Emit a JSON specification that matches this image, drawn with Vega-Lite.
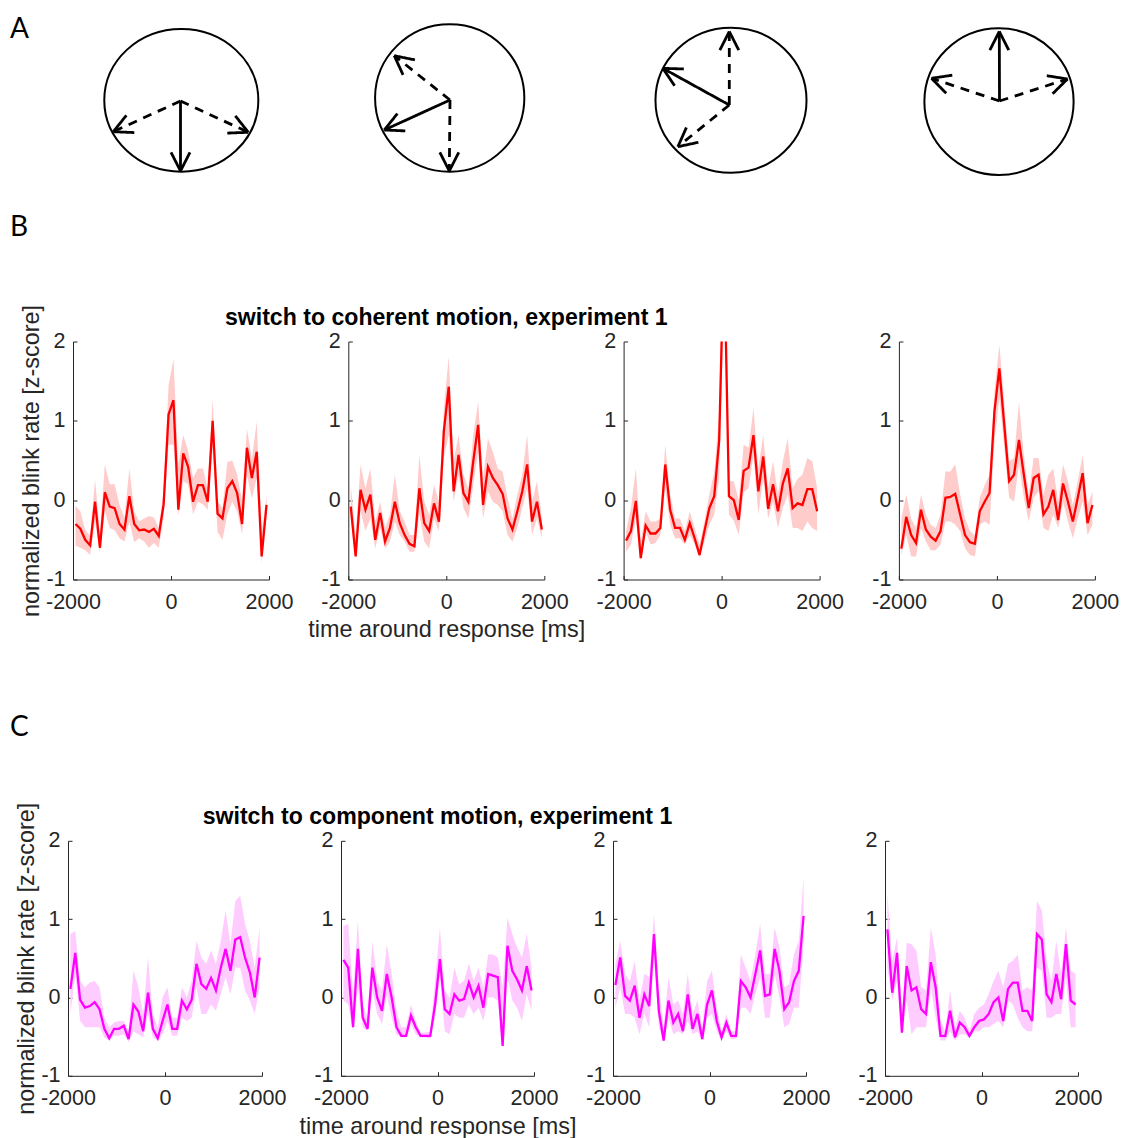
{
  "$schema": "https://vega.github.io/schema/vega-lite/v6.json",
  "background": "white",
  "padding": 0,
  "config": {
    "view": {"stroke": null},
    "font": "Liberation Sans",
    "axis": {
      "grid": false, "domainColor": "#262626", "domainWidth": 1,
      "tickColor": "#262626", "tickWidth": 1, "tickSize": -4,
      "labelColor": "#262626", "labelFont": "Liberation Sans", "labelFontSize": 21.5,
      "titleColor": "#262626", "titleFont": "Liberation Sans", "titleFontSize": 23.4, "titleFontWeight": "normal",
      "labelOverlap": false, "labelFlush": false, "labelBound": false
    },
    "axisX": {"labelPadding": 15.8, "titlePadding": 6},
    "axisY": {"labelPadding": 12, "titlePadding": 2}
  },
  "datasets": {
    "rings": [
      {"ring": "1", "x": 181.3, "y": 89.7},
      {"ring": "2", "x": 449.7, "y": 92.0},
      {"ring": "3", "x": 731.0, "y": 89.8},
      {"ring": "4", "x": 999.0, "y": 88.3}
    ],
    "arrows": [
      {"ring": "1", "line": "solid", "x": 180.5, "y": 89, "x2": 180.5, "y2": 19},
      {"ring": "1", "line": "solid", "x": 180.5, "y": 19, "x2": 190.0, "y2": 37.7},
      {"ring": "1", "line": "solid", "x": 180.5, "y": 19, "x2": 171.0, "y2": 37.7},
      {"ring": "1", "line": "dashed", "x": 180.5, "y": 89, "x2": 113.3, "y2": 58.3},
      {"ring": "1", "line": "solid", "x": 113.3, "y": 58.3, "x2": 134.3, "y2": 57.4},
      {"ring": "1", "line": "solid", "x": 113.3, "y": 58.3, "x2": 126.4, "y2": 74.7},
      {"ring": "1", "line": "dashed", "x": 180.5, "y": 89, "x2": 248.3, "y2": 57.7},
      {"ring": "1", "line": "solid", "x": 248.3, "y": 57.7, "x2": 235.3, "y2": 74.2},
      {"ring": "1", "line": "solid", "x": 248.3, "y": 57.7, "x2": 227.3, "y2": 56.9},
      {"ring": "2", "line": "solid", "x": 450, "y": 90, "x2": 384.3, "y2": 60},
      {"ring": "2", "line": "solid", "x": 384.3, "y": 60, "x2": 405.3, "y2": 59.1},
      {"ring": "2", "line": "solid", "x": 384.3, "y": 60, "x2": 397.4, "y2": 76.4},
      {"ring": "2", "line": "dashed", "x": 450, "y": 90, "x2": 394.3, "y2": 134.3},
      {"ring": "2", "line": "solid", "x": 394.3, "y": 134.3, "x2": 403.0, "y2": 115.2},
      {"ring": "2", "line": "solid", "x": 394.3, "y": 134.3, "x2": 414.9, "y2": 130.1},
      {"ring": "2", "line": "dashed", "x": 450, "y": 90, "x2": 449.3, "y2": 19},
      {"ring": "2", "line": "solid", "x": 449.3, "y": 19, "x2": 458.8, "y2": 37.7},
      {"ring": "2", "line": "solid", "x": 449.3, "y": 19, "x2": 439.8, "y2": 37.7},
      {"ring": "3", "line": "dashed", "x": 729.3, "y": 85, "x2": 729.3, "y2": 158.5},
      {"ring": "3", "line": "solid", "x": 729.3, "y": 158.5, "x2": 719.8, "y2": 139.8},
      {"ring": "3", "line": "solid", "x": 729.3, "y": 158.5, "x2": 738.8, "y2": 139.8},
      {"ring": "3", "line": "solid", "x": 729.3, "y": 85, "x2": 662.8, "y2": 121.7},
      {"ring": "3", "line": "solid", "x": 662.8, "y": 121.7, "x2": 674.6, "y2": 104.3},
      {"ring": "3", "line": "solid", "x": 662.8, "y": 121.7, "x2": 683.8, "y2": 121.0},
      {"ring": "3", "line": "dashed", "x": 729.3, "y": 85, "x2": 677.9, "y2": 43.3},
      {"ring": "3", "line": "solid", "x": 677.9, "y": 43.3, "x2": 698.4, "y2": 47.7},
      {"ring": "3", "line": "solid", "x": 677.9, "y": 43.3, "x2": 686.4, "y2": 62.5},
      {"ring": "4", "line": "solid", "x": 999.5, "y": 89, "x2": 999.3, "y2": 158.5},
      {"ring": "4", "line": "solid", "x": 999.3, "y": 158.5, "x2": 989.8, "y2": 139.8},
      {"ring": "4", "line": "solid", "x": 999.3, "y": 158.5, "x2": 1008.8, "y2": 139.8},
      {"ring": "4", "line": "dashed", "x": 999.5, "y": 89, "x2": 931.5, "y2": 111.7},
      {"ring": "4", "line": "solid", "x": 931.5, "y": 111.7, "x2": 946.2, "y2": 96.7},
      {"ring": "4", "line": "solid", "x": 931.5, "y": 111.7, "x2": 952.3, "y2": 114.8},
      {"ring": "4", "line": "dashed", "x": 999.5, "y": 89, "x2": 1067.5, "y2": 111},
      {"ring": "4", "line": "solid", "x": 1067.5, "y": 111, "x2": 1046.8, "y2": 114.3},
      {"ring": "4", "line": "solid", "x": 1067.5, "y": 111, "x2": 1052.6, "y2": 96.2}
    ],
    "blink": [
      {"p":"B1","t":-1950,"m":-0.30,"lo":-0.57,"hi":-0.07},
      {"p":"B1","t":-1850,"m":-0.36,"lo":-0.60,"hi":-0.14},
      {"p":"B1","t":-1750,"m":-0.50,"lo":-0.63,"hi":-0.38},
      {"p":"B1","t":-1650,"m":-0.57,"lo":-0.69,"hi":-0.45},
      {"p":"B1","t":-1550,"m":-0.02,"lo":-0.27,"hi":0.26},
      {"p":"B1","t":-1450,"m":-0.60,"lo":-0.66,"hi":-0.42},
      {"p":"B1","t":-1350,"m":0.10,"lo":-0.14,"hi":0.45},
      {"p":"B1","t":-1250,"m":-0.08,"lo":-0.35,"hi":0.20},
      {"p":"B1","t":-1150,"m":-0.10,"lo":-0.38,"hi":0.20},
      {"p":"B1","t":-1050,"m":-0.30,"lo":-0.48,"hi":-0.06},
      {"p":"B1","t":-950,"m":-0.37,"lo":-0.52,"hi":-0.22},
      {"p":"B1","t":-850,"m":0.05,"lo":-0.27,"hi":0.40},
      {"p":"B1","t":-750,"m":-0.30,"lo":-0.53,"hi":-0.14},
      {"p":"B1","t":-650,"m":-0.38,"lo":-0.48,"hi":-0.27},
      {"p":"B1","t":-550,"m":-0.37,"lo":-0.52,"hi":-0.23},
      {"p":"B1","t":-450,"m":-0.40,"lo":-0.60,"hi":-0.20},
      {"p":"B1","t":-350,"m":-0.36,"lo":-0.54,"hi":-0.22},
      {"p":"B1","t":-250,"m":-0.45,"lo":-0.60,"hi":-0.35},
      {"p":"B1","t":-150,"m":-0.05,"lo":-0.22,"hi":0.11},
      {"p":"B1","t":-50,"m":1.08,"lo":0.70,"hi":1.45},
      {"p":"B1","t":50,"m":1.26,"lo":0.70,"hi":1.78},
      {"p":"B1","t":150,"m":-0.12,"lo":-0.20,"hi":0.45},
      {"p":"B1","t":250,"m":0.59,"lo":0.24,"hi":0.82},
      {"p":"B1","t":350,"m":0.42,"lo":0.20,"hi":0.62},
      {"p":"B1","t":450,"m":-0.02,"lo":-0.18,"hi":0.28},
      {"p":"B1","t":550,"m":0.19,"lo":-0.02,"hi":0.40},
      {"p":"B1","t":650,"m":0.19,"lo":-0.05,"hi":0.40},
      {"p":"B1","t":750,"m":-0.02,"lo":-0.12,"hi":0.15},
      {"p":"B1","t":850,"m":1.00,"lo":0.65,"hi":1.28},
      {"p":"B1","t":950,"m":-0.17,"lo":-0.40,"hi":-0.02},
      {"p":"B1","t":1050,"m":-0.23,"lo":-0.50,"hi":-0.10},
      {"p":"B1","t":1150,"m":0.15,"lo":-0.18,"hi":0.48},
      {"p":"B1","t":1250,"m":0.24,"lo":-0.02,"hi":0.50},
      {"p":"B1","t":1350,"m":0.09,"lo":-0.14,"hi":0.32},
      {"p":"B1","t":1450,"m":-0.30,"lo":-0.43,"hi":0.00},
      {"p":"B1","t":1550,"m":0.66,"lo":0.32,"hi":0.90},
      {"p":"B1","t":1650,"m":0.28,"lo":0.02,"hi":0.52},
      {"p":"B1","t":1750,"m":0.61,"lo":0.28,"hi":0.99},
      {"p":"B1","t":1850,"m":-0.71,"lo":-0.79,"hi":-0.40},
      {"p":"B1","t":1950,"m":-0.06,"lo":-0.18,"hi":0.06},

      {"p":"B2","t":-1950,"m":-0.08,"lo":-0.23,"hi":0.19},
      {"p":"B2","t":-1850,"m":-0.71,"lo":-0.73,"hi":-0.44},
      {"p":"B2","t":-1750,"m":0.13,"lo":-0.14,"hi":0.45},
      {"p":"B2","t":-1650,"m":-0.12,"lo":-0.39,"hi":0.15},
      {"p":"B2","t":-1550,"m":0.07,"lo":-0.23,"hi":0.40},
      {"p":"B2","t":-1450,"m":-0.50,"lo":-0.61,"hi":-0.27},
      {"p":"B2","t":-1350,"m":-0.16,"lo":-0.35,"hi":-0.02},
      {"p":"B2","t":-1250,"m":-0.52,"lo":-0.61,"hi":-0.35},
      {"p":"B2","t":-1150,"m":-0.35,"lo":-0.52,"hi":-0.18},
      {"p":"B2","t":-1050,"m":-0.02,"lo":-0.27,"hi":0.32},
      {"p":"B2","t":-950,"m":-0.29,"lo":-0.44,"hi":-0.14},
      {"p":"B2","t":-850,"m":-0.44,"lo":-0.52,"hi":-0.27},
      {"p":"B2","t":-750,"m":-0.55,"lo":-0.65,"hi":-0.44},
      {"p":"B2","t":-650,"m":-0.58,"lo":-0.65,"hi":-0.44},
      {"p":"B2","t":-550,"m":0.15,"lo":-0.18,"hi":0.57},
      {"p":"B2","t":-450,"m":-0.29,"lo":-0.52,"hi":-0.02},
      {"p":"B2","t":-350,"m":-0.39,"lo":-0.61,"hi":-0.18},
      {"p":"B2","t":-250,"m":-0.04,"lo":-0.23,"hi":0.19},
      {"p":"B2","t":-150,"m":-0.27,"lo":-0.39,"hi":-0.02},
      {"p":"B2","t":-50,"m":0.87,"lo":0.53,"hi":1.16},
      {"p":"B2","t":50,"m":1.43,"lo":0.82,"hi":1.81},
      {"p":"B2","t":150,"m":0.11,"lo":-0.02,"hi":0.49},
      {"p":"B2","t":250,"m":0.57,"lo":0.32,"hi":0.82},
      {"p":"B2","t":350,"m":0.09,"lo":-0.10,"hi":0.32},
      {"p":"B2","t":450,"m":-0.02,"lo":-0.23,"hi":0.15},
      {"p":"B2","t":550,"m":0.49,"lo":0.19,"hi":0.82},
      {"p":"B2","t":650,"m":0.95,"lo":0.61,"hi":1.24},
      {"p":"B2","t":750,"m":-0.06,"lo":-0.23,"hi":0.28},
      {"p":"B2","t":850,"m":0.42,"lo":0.11,"hi":0.78},
      {"p":"B2","t":950,"m":0.28,"lo":-0.02,"hi":0.61},
      {"p":"B2","t":1050,"m":0.19,"lo":-0.06,"hi":0.40},
      {"p":"B2","t":1150,"m":0.08,"lo":-0.14,"hi":0.36},
      {"p":"B2","t":1250,"m":-0.23,"lo":-0.44,"hi":0.03},
      {"p":"B2","t":1350,"m":-0.37,"lo":-0.52,"hi":-0.23},
      {"p":"B2","t":1450,"m":-0.14,"lo":-0.35,"hi":0.07},
      {"p":"B2","t":1550,"m":0.11,"lo":-0.10,"hi":0.32},
      {"p":"B2","t":1650,"m":0.45,"lo":0.15,"hi":0.82},
      {"p":"B2","t":1750,"m":-0.27,"lo":-0.44,"hi":-0.02},
      {"p":"B2","t":1850,"m":-0.02,"lo":-0.23,"hi":0.24},
      {"p":"B2","t":1950,"m":-0.37,"lo":-0.48,"hi":-0.23},

      {"p":"B3","t":-1950,"m":-0.51,"lo":-0.65,"hi":-0.39},
      {"p":"B3","t":-1850,"m":-0.39,"lo":-0.56,"hi":-0.10},
      {"p":"B3","t":-1750,"m":-0.01,"lo":-0.23,"hi":0.40},
      {"p":"B3","t":-1650,"m":-0.73,"lo":-0.77,"hi":-0.52},
      {"p":"B3","t":-1550,"m":-0.32,"lo":-0.39,"hi":-0.14},
      {"p":"B3","t":-1450,"m":-0.42,"lo":-0.56,"hi":-0.27},
      {"p":"B3","t":-1350,"m":-0.42,"lo":-0.54,"hi":-0.27},
      {"p":"B3","t":-1250,"m":-0.35,"lo":-0.44,"hi":-0.23},
      {"p":"B3","t":-1150,"m":0.45,"lo":0.15,"hi":0.70},
      {"p":"B3","t":-1050,"m":-0.12,"lo":-0.31,"hi":0.07},
      {"p":"B3","t":-950,"m":-0.35,"lo":-0.48,"hi":-0.23},
      {"p":"B3","t":-850,"m":-0.35,"lo":-0.48,"hi":-0.23},
      {"p":"B3","t":-750,"m":-0.50,"lo":-0.56,"hi":-0.39},
      {"p":"B3","t":-650,"m":-0.29,"lo":-0.44,"hi":-0.14},
      {"p":"B3","t":-550,"m":-0.48,"lo":-0.56,"hi":-0.35},
      {"p":"B3","t":-450,"m":-0.69,"lo":-0.73,"hi":-0.56},
      {"p":"B3","t":-350,"m":-0.39,"lo":-0.52,"hi":-0.27},
      {"p":"B3","t":-250,"m":-0.10,"lo":-0.31,"hi":0.07},
      {"p":"B3","t":-150,"m":0.05,"lo":-0.18,"hi":0.36},
      {"p":"B3","t":-50,"m":0.75,"lo":0.28,"hi":1.08},
      {"p":"B3","t":50,"m":3.20,"lo":2.60,"hi":3.80},
      {"p":"B3","t":150,"m":0.05,"lo":-0.18,"hi":0.24},
      {"p":"B3","t":250,"m":0.00,"lo":-0.26,"hi":0.24},
      {"p":"B3","t":350,"m":-0.25,"lo":-0.44,"hi":0.00},
      {"p":"B3","t":450,"m":0.37,"lo":0.10,"hi":0.70},
      {"p":"B3","t":550,"m":0.41,"lo":0.15,"hi":0.66},
      {"p":"B3","t":650,"m":0.82,"lo":0.57,"hi":1.16},
      {"p":"B3","t":750,"m":0.11,"lo":-0.18,"hi":0.40},
      {"p":"B3","t":850,"m":0.55,"lo":0.28,"hi":0.82},
      {"p":"B3","t":950,"m":-0.11,"lo":-0.23,"hi":0.15},
      {"p":"B3","t":1050,"m":0.20,"lo":-0.02,"hi":0.49},
      {"p":"B3","t":1150,"m":-0.14,"lo":-0.35,"hi":0.07},
      {"p":"B3","t":1250,"m":0.21,"lo":-0.10,"hi":0.49},
      {"p":"B3","t":1350,"m":0.40,"lo":0.07,"hi":0.78},
      {"p":"B3","t":1450,"m":-0.10,"lo":-0.35,"hi":0.15},
      {"p":"B3","t":1550,"m":-0.04,"lo":-0.35,"hi":0.27},
      {"p":"B3","t":1650,"m":-0.06,"lo":-0.39,"hi":0.32},
      {"p":"B3","t":1750,"m":0.14,"lo":-0.27,"hi":0.53},
      {"p":"B3","t":1850,"m":0.14,"lo":-0.35,"hi":0.49},
      {"p":"B3","t":1950,"m":-0.14,"lo":-0.39,"hi":0.15},

      {"p":"B4","t":-1950,"m":-0.61,"lo":-0.69,"hi":-0.23},
      {"p":"B4","t":-1850,"m":-0.21,"lo":-0.44,"hi":0.07},
      {"p":"B4","t":-1750,"m":-0.44,"lo":-0.71,"hi":-0.23},
      {"p":"B4","t":-1650,"m":-0.54,"lo":-0.71,"hi":-0.35},
      {"p":"B4","t":-1550,"m":-0.12,"lo":-0.35,"hi":0.07},
      {"p":"B4","t":-1450,"m":-0.37,"lo":-0.52,"hi":-0.18},
      {"p":"B4","t":-1350,"m":-0.46,"lo":-0.63,"hi":-0.31},
      {"p":"B4","t":-1250,"m":-0.51,"lo":-0.63,"hi":-0.35},
      {"p":"B4","t":-1150,"m":-0.39,"lo":-0.56,"hi":-0.18},
      {"p":"B4","t":-1050,"m":0.03,"lo":-0.27,"hi":0.36},
      {"p":"B4","t":-950,"m":0.04,"lo":-0.27,"hi":0.36},
      {"p":"B4","t":-850,"m":0.08,"lo":-0.31,"hi":0.45},
      {"p":"B4","t":-750,"m":-0.18,"lo":-0.39,"hi":0.07},
      {"p":"B4","t":-650,"m":-0.44,"lo":-0.61,"hi":-0.23},
      {"p":"B4","t":-550,"m":-0.53,"lo":-0.69,"hi":-0.39},
      {"p":"B4","t":-450,"m":-0.55,"lo":-0.71,"hi":-0.44},
      {"p":"B4","t":-350,"m":-0.14,"lo":-0.31,"hi":0.03},
      {"p":"B4","t":-250,"m":-0.02,"lo":-0.27,"hi":0.19},
      {"p":"B4","t":-150,"m":0.09,"lo":-0.31,"hi":0.32},
      {"p":"B4","t":-50,"m":1.12,"lo":0.74,"hi":1.37},
      {"p":"B4","t":50,"m":1.66,"lo":1.29,"hi":1.96},
      {"p":"B4","t":150,"m":0.95,"lo":0.66,"hi":1.24},
      {"p":"B4","t":250,"m":0.24,"lo":0.03,"hi":0.49},
      {"p":"B4","t":350,"m":0.32,"lo":-0.02,"hi":0.53},
      {"p":"B4","t":450,"m":0.76,"lo":0.45,"hi":1.24},
      {"p":"B4","t":550,"m":0.32,"lo":0.03,"hi":0.57},
      {"p":"B4","t":650,"m":-0.10,"lo":-0.27,"hi":0.07},
      {"p":"B4","t":750,"m":0.28,"lo":0.03,"hi":0.53},
      {"p":"B4","t":850,"m":0.32,"lo":0.11,"hi":0.53},
      {"p":"B4","t":950,"m":-0.18,"lo":-0.35,"hi":0.07},
      {"p":"B4","t":1050,"m":-0.08,"lo":-0.39,"hi":0.32},
      {"p":"B4","t":1150,"m":0.13,"lo":-0.18,"hi":0.40},
      {"p":"B4","t":1250,"m":-0.25,"lo":-0.35,"hi":-0.02},
      {"p":"B4","t":1350,"m":0.21,"lo":-0.02,"hi":0.45},
      {"p":"B4","t":1450,"m":-0.02,"lo":-0.27,"hi":0.24},
      {"p":"B4","t":1550,"m":-0.27,"lo":-0.48,"hi":-0.06},
      {"p":"B4","t":1650,"m":0.03,"lo":-0.23,"hi":0.24},
      {"p":"B4","t":1750,"m":0.34,"lo":-0.02,"hi":0.57},
      {"p":"B4","t":1850,"m":-0.29,"lo":-0.44,"hi":-0.06},
      {"p":"B4","t":1950,"m":-0.06,"lo":-0.31,"hi":0.11},

      {"p":"C1","t":-1950,"m":0.11,"lo":-0.21,"hi":0.81},
      {"p":"C1","t":-1850,"m":0.57,"lo":0.30,"hi":0.85},
      {"p":"C1","t":-1750,"m":-0.03,"lo":-0.30,"hi":0.21},
      {"p":"C1","t":-1650,"m":-0.13,"lo":-0.38,"hi":0.13},
      {"p":"C1","t":-1550,"m":-0.11,"lo":-0.38,"hi":0.19},
      {"p":"C1","t":-1450,"m":-0.06,"lo":-0.38,"hi":0.21},
      {"p":"C1","t":-1350,"m":-0.15,"lo":-0.38,"hi":0.13},
      {"p":"C1","t":-1250,"m":-0.40,"lo":-0.51,"hi":-0.26},
      {"p":"C1","t":-1150,"m":-0.52,"lo":-0.55,"hi":-0.38},
      {"p":"C1","t":-1050,"m":-0.40,"lo":-0.49,"hi":-0.32},
      {"p":"C1","t":-950,"m":-0.40,"lo":-0.49,"hi":-0.30},
      {"p":"C1","t":-850,"m":-0.36,"lo":-0.47,"hi":-0.30},
      {"p":"C1","t":-750,"m":-0.53,"lo":-0.57,"hi":-0.43},
      {"p":"C1","t":-650,"m":-0.09,"lo":-0.43,"hi":0.34},
      {"p":"C1","t":-550,"m":-0.18,"lo":-0.47,"hi":0.13},
      {"p":"C1","t":-450,"m":-0.43,"lo":-0.51,"hi":-0.21},
      {"p":"C1","t":-350,"m":0.06,"lo":-0.21,"hi":0.51},
      {"p":"C1","t":-250,"m":-0.40,"lo":-0.51,"hi":-0.21},
      {"p":"C1","t":-150,"m":-0.52,"lo":-0.55,"hi":-0.38},
      {"p":"C1","t":-50,"m":-0.30,"lo":-0.47,"hi":0.00},
      {"p":"C1","t":50,"m":-0.09,"lo":-0.30,"hi":0.13},
      {"p":"C1","t":150,"m":-0.40,"lo":-0.49,"hi":-0.26},
      {"p":"C1","t":250,"m":-0.40,"lo":-0.49,"hi":-0.26},
      {"p":"C1","t":350,"m":-0.04,"lo":-0.26,"hi":0.13},
      {"p":"C1","t":450,"m":-0.15,"lo":-0.30,"hi":0.00},
      {"p":"C1","t":550,"m":-0.03,"lo":-0.26,"hi":0.21},
      {"p":"C1","t":650,"m":0.43,"lo":0.13,"hi":0.72},
      {"p":"C1","t":750,"m":0.17,"lo":-0.21,"hi":0.51},
      {"p":"C1","t":850,"m":0.11,"lo":-0.21,"hi":0.43},
      {"p":"C1","t":950,"m":0.25,"lo":-0.09,"hi":0.60},
      {"p":"C1","t":1050,"m":0.09,"lo":-0.17,"hi":0.43},
      {"p":"C1","t":1150,"m":0.38,"lo":0.04,"hi":0.72},
      {"p":"C1","t":1250,"m":0.62,"lo":0.26,"hi":1.11},
      {"p":"C1","t":1350,"m":0.34,"lo":0.04,"hi":0.68},
      {"p":"C1","t":1450,"m":0.74,"lo":0.38,"hi":1.23},
      {"p":"C1","t":1550,"m":0.77,"lo":0.38,"hi":1.30},
      {"p":"C1","t":1650,"m":0.51,"lo":0.09,"hi":0.94},
      {"p":"C1","t":1750,"m":0.32,"lo":-0.04,"hi":0.72},
      {"p":"C1","t":1850,"m":0.00,"lo":-0.21,"hi":0.38},
      {"p":"C1","t":1950,"m":0.51,"lo":0.13,"hi":0.89},

      {"p":"C2","t":-1950,"m":0.48,"lo":-0.04,"hi":0.91},
      {"p":"C2","t":-1850,"m":0.38,"lo":-0.09,"hi":0.94},
      {"p":"C2","t":-1750,"m":-0.38,"lo":-0.43,"hi":0.04},
      {"p":"C2","t":-1650,"m":0.62,"lo":0.13,"hi":0.98},
      {"p":"C2","t":-1550,"m":-0.26,"lo":-0.38,"hi":-0.09},
      {"p":"C2","t":-1450,"m":-0.40,"lo":-0.43,"hi":-0.26},
      {"p":"C2","t":-1350,"m":0.38,"lo":0.09,"hi":0.72},
      {"p":"C2","t":-1250,"m":0.00,"lo":-0.21,"hi":0.21},
      {"p":"C2","t":-1150,"m":-0.17,"lo":-0.34,"hi":0.09},
      {"p":"C2","t":-1050,"m":0.30,"lo":0.04,"hi":0.68},
      {"p":"C2","t":-950,"m":0.00,"lo":-0.26,"hi":0.30},
      {"p":"C2","t":-850,"m":-0.38,"lo":-0.47,"hi":-0.17},
      {"p":"C2","t":-750,"m":-0.49,"lo":-0.51,"hi":-0.38},
      {"p":"C2","t":-650,"m":-0.49,"lo":-0.51,"hi":-0.38},
      {"p":"C2","t":-550,"m":-0.23,"lo":-0.34,"hi":-0.09},
      {"p":"C2","t":-450,"m":-0.38,"lo":-0.47,"hi":-0.30},
      {"p":"C2","t":-350,"m":-0.49,"lo":-0.51,"hi":-0.45},
      {"p":"C2","t":-250,"m":-0.49,"lo":-0.51,"hi":-0.45},
      {"p":"C2","t":-150,"m":-0.49,"lo":-0.53,"hi":-0.43},
      {"p":"C2","t":-50,"m":-0.09,"lo":-0.26,"hi":0.21},
      {"p":"C2","t":50,"m":0.49,"lo":0.26,"hi":0.89},
      {"p":"C2","t":150,"m":-0.15,"lo":-0.43,"hi":0.09},
      {"p":"C2","t":250,"m":-0.21,"lo":-0.47,"hi":0.00},
      {"p":"C2","t":350,"m":0.04,"lo":-0.21,"hi":0.38},
      {"p":"C2","t":450,"m":-0.04,"lo":-0.26,"hi":0.17},
      {"p":"C2","t":550,"m":-0.02,"lo":-0.26,"hi":0.21},
      {"p":"C2","t":650,"m":0.19,"lo":-0.09,"hi":0.43},
      {"p":"C2","t":750,"m":0.00,"lo":-0.21,"hi":0.21},
      {"p":"C2","t":850,"m":0.15,"lo":-0.13,"hi":0.38},
      {"p":"C2","t":950,"m":-0.13,"lo":-0.30,"hi":0.13},
      {"p":"C2","t":1050,"m":0.30,"lo":0.00,"hi":0.55},
      {"p":"C2","t":1150,"m":0.28,"lo":0.00,"hi":0.55},
      {"p":"C2","t":1250,"m":0.26,"lo":-0.04,"hi":0.51},
      {"p":"C2","t":1350,"m":-0.62,"lo":-0.64,"hi":0.13},
      {"p":"C2","t":1450,"m":0.66,"lo":0.26,"hi":1.02},
      {"p":"C2","t":1550,"m":0.34,"lo":-0.04,"hi":0.81},
      {"p":"C2","t":1650,"m":0.23,"lo":-0.13,"hi":0.64},
      {"p":"C2","t":1750,"m":0.09,"lo":-0.30,"hi":0.51},
      {"p":"C2","t":1850,"m":0.40,"lo":0.04,"hi":0.81},
      {"p":"C2","t":1950,"m":0.09,"lo":-0.17,"hi":0.38},

      {"p":"C3","t":-1950,"m":0.16,"lo":-0.13,"hi":0.43},
      {"p":"C3","t":-1850,"m":0.51,"lo":0.13,"hi":0.72},
      {"p":"C3","t":-1750,"m":0.02,"lo":-0.21,"hi":0.30},
      {"p":"C3","t":-1650,"m":-0.04,"lo":-0.21,"hi":0.21},
      {"p":"C3","t":-1550,"m":0.15,"lo":-0.26,"hi":0.47},
      {"p":"C3","t":-1450,"m":-0.26,"lo":-0.47,"hi":-0.04},
      {"p":"C3","t":-1350,"m":0.04,"lo":-0.21,"hi":0.30},
      {"p":"C3","t":-1250,"m":-0.11,"lo":-0.38,"hi":0.26},
      {"p":"C3","t":-1150,"m":0.81,"lo":0.51,"hi":1.06},
      {"p":"C3","t":-1050,"m":-0.17,"lo":-0.38,"hi":0.13},
      {"p":"C3","t":-950,"m":-0.55,"lo":-0.57,"hi":-0.38},
      {"p":"C3","t":-850,"m":-0.04,"lo":-0.26,"hi":0.26},
      {"p":"C3","t":-750,"m":-0.32,"lo":-0.47,"hi":-0.09},
      {"p":"C3","t":-650,"m":-0.21,"lo":-0.43,"hi":-0.04},
      {"p":"C3","t":-550,"m":-0.43,"lo":-0.47,"hi":-0.21},
      {"p":"C3","t":-450,"m":0.04,"lo":-0.30,"hi":0.30},
      {"p":"C3","t":-350,"m":-0.40,"lo":-0.47,"hi":-0.21},
      {"p":"C3","t":-250,"m":-0.21,"lo":-0.43,"hi":-0.04},
      {"p":"C3","t":-150,"m":-0.53,"lo":-0.55,"hi":-0.38},
      {"p":"C3","t":-50,"m":-0.09,"lo":-0.26,"hi":0.21},
      {"p":"C3","t":50,"m":0.09,"lo":-0.21,"hi":0.34},
      {"p":"C3","t":150,"m":-0.30,"lo":-0.43,"hi":-0.13},
      {"p":"C3","t":250,"m":-0.51,"lo":-0.55,"hi":-0.43},
      {"p":"C3","t":350,"m":-0.32,"lo":-0.43,"hi":-0.21},
      {"p":"C3","t":450,"m":-0.49,"lo":-0.53,"hi":-0.43},
      {"p":"C3","t":550,"m":-0.49,"lo":-0.53,"hi":-0.43},
      {"p":"C3","t":650,"m":0.21,"lo":-0.13,"hi":0.55},
      {"p":"C3","t":750,"m":0.13,"lo":-0.13,"hi":0.38},
      {"p":"C3","t":850,"m":0.00,"lo":-0.21,"hi":0.21},
      {"p":"C3","t":950,"m":0.30,"lo":0.04,"hi":0.55},
      {"p":"C3","t":1050,"m":0.60,"lo":0.26,"hi":0.94},
      {"p":"C3","t":1150,"m":0.02,"lo":-0.26,"hi":0.30},
      {"p":"C3","t":1250,"m":0.04,"lo":-0.26,"hi":0.30},
      {"p":"C3","t":1350,"m":0.62,"lo":0.30,"hi":0.89},
      {"p":"C3","t":1450,"m":0.34,"lo":0.00,"hi":0.64},
      {"p":"C3","t":1550,"m":-0.15,"lo":-0.38,"hi":0.13},
      {"p":"C3","t":1650,"m":-0.06,"lo":-0.34,"hi":0.17},
      {"p":"C3","t":1750,"m":0.21,"lo":-0.13,"hi":0.55},
      {"p":"C3","t":1850,"m":0.34,"lo":-0.13,"hi":0.72},
      {"p":"C3","t":1950,"m":1.04,"lo":0.68,"hi":1.53},

      {"p":"C4","t":-1950,"m":0.87,"lo":0.38,"hi":1.32},
      {"p":"C4","t":-1850,"m":0.06,"lo":-0.04,"hi":0.47},
      {"p":"C4","t":-1750,"m":0.57,"lo":0.21,"hi":0.77},
      {"p":"C4","t":-1650,"m":-0.45,"lo":-0.47,"hi":-0.21},
      {"p":"C4","t":-1550,"m":0.40,"lo":-0.04,"hi":0.70},
      {"p":"C4","t":-1450,"m":0.09,"lo":-0.47,"hi":0.68},
      {"p":"C4","t":-1350,"m":0.13,"lo":-0.38,"hi":0.60},
      {"p":"C4","t":-1250,"m":-0.15,"lo":-0.38,"hi":0.13},
      {"p":"C4","t":-1150,"m":-0.21,"lo":-0.38,"hi":0.09},
      {"p":"C4","t":-1050,"m":0.45,"lo":0.13,"hi":0.89},
      {"p":"C4","t":-950,"m":0.13,"lo":-0.26,"hi":0.55},
      {"p":"C4","t":-850,"m":-0.49,"lo":-0.55,"hi":-0.30},
      {"p":"C4","t":-750,"m":-0.49,"lo":-0.55,"hi":-0.43},
      {"p":"C4","t":-650,"m":-0.17,"lo":-0.43,"hi":0.09},
      {"p":"C4","t":-550,"m":-0.51,"lo":-0.55,"hi":-0.38},
      {"p":"C4","t":-450,"m":-0.32,"lo":-0.47,"hi":-0.17},
      {"p":"C4","t":-350,"m":-0.38,"lo":-0.47,"hi":-0.26},
      {"p":"C4","t":-250,"m":-0.49,"lo":-0.51,"hi":-0.43},
      {"p":"C4","t":-150,"m":-0.38,"lo":-0.43,"hi":-0.21},
      {"p":"C4","t":-50,"m":-0.30,"lo":-0.43,"hi":-0.13},
      {"p":"C4","t":50,"m":-0.28,"lo":-0.38,"hi":-0.09},
      {"p":"C4","t":150,"m":-0.21,"lo":-0.38,"hi":0.04},
      {"p":"C4","t":250,"m":-0.06,"lo":-0.34,"hi":0.21},
      {"p":"C4","t":350,"m":0.00,"lo":-0.30,"hi":0.34},
      {"p":"C4","t":450,"m":-0.30,"lo":-0.38,"hi":0.13},
      {"p":"C4","t":550,"m":0.11,"lo":-0.04,"hi":0.43},
      {"p":"C4","t":650,"m":0.19,"lo":-0.09,"hi":0.47},
      {"p":"C4","t":750,"m":0.19,"lo":-0.26,"hi":0.55},
      {"p":"C4","t":850,"m":-0.17,"lo":-0.38,"hi":0.09},
      {"p":"C4","t":950,"m":-0.17,"lo":-0.43,"hi":0.13},
      {"p":"C4","t":1050,"m":-0.30,"lo":-0.43,"hi":0.09},
      {"p":"C4","t":1150,"m":0.81,"lo":0.38,"hi":1.23},
      {"p":"C4","t":1250,"m":0.74,"lo":0.34,"hi":1.11},
      {"p":"C4","t":1350,"m":0.04,"lo":-0.26,"hi":0.47},
      {"p":"C4","t":1450,"m":-0.06,"lo":-0.26,"hi":0.21},
      {"p":"C4","t":1550,"m":0.30,"lo":-0.21,"hi":0.72},
      {"p":"C4","t":1650,"m":-0.02,"lo":-0.21,"hi":0.30},
      {"p":"C4","t":1750,"m":0.68,"lo":0.26,"hi":0.89},
      {"p":"C4","t":1850,"m":-0.04,"lo":-0.38,"hi":0.34},
      {"p":"C4","t":1950,"m":-0.09,"lo":-0.38,"hi":0.30}
    ]
  },
  "bounds": "full",
  "spacing": 23.5,
  "vconcat": [
    {
      "width": 1100, "height": 190,
      "title": {"text": "A", "anchor": "start", "frame": "group", "dx": 10, "offset": -66.3, "baseline": "alphabetic", "font": "Lato", "fontSize": 28, "fontWeight": "normal", "color": "black"},
      "layer": [
        {
          "data": {"name": "rings"},
          "mark": {"type": "point", "filled": false, "color": "black", "strokeWidth": 2, "size": 22500, "opacity": 1},
          "encoding": {
            "x": {"field": "x", "type": "quantitative", "scale": {"domain": [0, 1100], "nice": false, "zero": false}, "axis": null},
            "y": {"field": "y", "type": "quantitative", "scale": {"domain": [0, 190], "nice": false, "zero": false}, "axis": null},
            "shape": {"field": "ring", "type": "nominal", "legend": null, "scale": {"domain": ["1", "2", "3", "4"], "range": [
              "M-1.027,0A1.027,0.951,0,1,1,1.027,0A1.027,0.951,0,1,1,-1.027,0Z",
              "M-0.995,0A0.995,0.983,0,1,1,0.995,0A0.995,0.983,0,1,1,-0.995,0Z",
              "M-1.007,0A1.007,0.967,0,1,1,1.007,0A1.007,0.967,0,1,1,-1.007,0Z",
              "M-0.995,0A0.995,0.978,0,1,1,0.995,0A0.995,0.978,0,1,1,-0.995,0Z"
            ]}}
          }
        },
        {
          "data": {"name": "arrows"},
          "mark": {"type": "rule", "color": "black", "strokeWidth": 2.8, "strokeCap": "butt"},
          "encoding": {
            "x": {"field": "x", "type": "quantitative"},
            "y": {"field": "y", "type": "quantitative"},
            "x2": {"field": "x2"},
            "y2": {"field": "y2"},
            "strokeDash": {"field": "line", "type": "nominal", "legend": null, "scale": {"domain": ["solid", "dashed"], "range": [[1, 0], [9, 7]]}}
          }
        }
      ]
    },
    {
      "bounds": "full",
      "spacing": 72.3,
      "vconcat": [
        {
          "bounds": "flush",
          "spacing": 72,
          "hconcat": [
            {"width": 1, "height": 1, "data": {"values": []}, "mark": "point"},
            {
              "bounds": "flush",
              "spacing": 79.3,
              "hconcat": [
                {
                  "width": 196, "height": 238,
                  "title": {"text": "B", "anchor": "start", "frame": "group", "dx": -63, "offset": 40.3, "baseline": "alphabetic", "font": "Lato", "fontSize": 28, "fontWeight": "normal", "color": "black"},
                  "data": {"name": "blink"},
                  "transform": [{"filter": "datum.p == 'B1'"}],
                  "encoding": {"x": {"field": "t", "type": "quantitative", "scale": {"domain": [-2000, 2000], "nice": false}, "axis": {"values": [-2000, 0, 2000], "labelExpr": "datum.value + ''", "title": null}}},
                  "layer": [
                    {"mark": {"type": "area", "color": "#ffcccc", "opacity": 1, "clip": true},
                     "encoding": {"y": {"field": "lo", "type": "quantitative", "scale": {"domain": [-1, 2], "nice": false}, "axis": {"values": [-1, 0, 1, 2], "labelExpr": "datum.value + ''", "title": "normalized blink rate [z-score]"}}, "y2": {"field": "hi"}}},
                    {"mark": {"type": "line", "color": "#ff0000", "strokeWidth": 2.3, "clip": true},
                     "encoding": {"y": {"field": "m", "type": "quantitative", "axis": {"values": [-1, 0, 1, 2], "labelExpr": "datum.value + ''", "title": "normalized blink rate [z-score]"}}}},
                    {"data": {"values": [{}]}, "mark": {"type": "rule", "color": "black", "strokeWidth": 1}, "encoding": {"x": {"datum": 0}}}
                  ]
                },
                {
                  "width": 196, "height": 238,
                  "title": {"text": "switch to coherent motion, experiment 1", "anchor": "middle", "frame": "group", "offset": -17.5, "baseline": "alphabetic", "font": "Liberation Sans", "fontSize": 23.1, "fontWeight": "bold", "color": "black"},
                  "data": {"name": "blink"},
                  "transform": [{"filter": "datum.p == 'B2'"}],
                  "encoding": {"x": {"field": "t", "type": "quantitative", "scale": {"domain": [-2000, 2000], "nice": false}, "axis": {"values": [-2000, 0, 2000], "labelExpr": "datum.value + ''", "title": "time around response [ms]"}}},
                  "layer": [
                    {"mark": {"type": "area", "color": "#ffcccc", "opacity": 1, "clip": true},
                     "encoding": {"y": {"field": "lo", "type": "quantitative", "scale": {"domain": [-1, 2], "nice": false}, "axis": {"values": [-1, 0, 1, 2], "labelExpr": "datum.value + ''", "title": null}}, "y2": {"field": "hi"}}},
                    {"mark": {"type": "line", "color": "#ff0000", "strokeWidth": 2.3, "clip": true},
                     "encoding": {"y": {"field": "m", "type": "quantitative", "axis": {"values": [-1, 0, 1, 2], "labelExpr": "datum.value + ''", "title": null}}}},
                    {"data": {"values": [{}]}, "mark": {"type": "rule", "color": "black", "strokeWidth": 1}, "encoding": {"x": {"datum": 0}}}
                  ]
                },
                {
                  "width": 196, "height": 238,
                  "data": {"name": "blink"},
                  "transform": [{"filter": "datum.p == 'B3'"}],
                  "encoding": {"x": {"field": "t", "type": "quantitative", "scale": {"domain": [-2000, 2000], "nice": false}, "axis": {"values": [-2000, 0, 2000], "labelExpr": "datum.value + ''", "title": null}}},
                  "layer": [
                    {"mark": {"type": "area", "color": "#ffcccc", "opacity": 1, "clip": true},
                     "encoding": {"y": {"field": "lo", "type": "quantitative", "scale": {"domain": [-1, 2], "nice": false}, "axis": {"values": [-1, 0, 1, 2], "labelExpr": "datum.value + ''", "title": null}}, "y2": {"field": "hi"}}},
                    {"mark": {"type": "line", "color": "#ff0000", "strokeWidth": 2.3, "clip": true},
                     "encoding": {"y": {"field": "m", "type": "quantitative", "axis": {"values": [-1, 0, 1, 2], "labelExpr": "datum.value + ''", "title": null}}}},
                    {"data": {"values": [{}]}, "mark": {"type": "rule", "color": "black", "strokeWidth": 1}, "encoding": {"x": {"datum": 0}}}
                  ]
                },
                {
                  "width": 196, "height": 238,
                  "data": {"name": "blink"},
                  "transform": [{"filter": "datum.p == 'B4'"}],
                  "encoding": {"x": {"field": "t", "type": "quantitative", "scale": {"domain": [-2000, 2000], "nice": false}, "axis": {"values": [-2000, 0, 2000], "labelExpr": "datum.value + ''", "title": null}}},
                  "layer": [
                    {"mark": {"type": "area", "color": "#ffcccc", "opacity": 1, "clip": true},
                     "encoding": {"y": {"field": "lo", "type": "quantitative", "scale": {"domain": [-1, 2], "nice": false}, "axis": {"values": [-1, 0, 1, 2], "labelExpr": "datum.value + ''", "title": null}}, "y2": {"field": "hi"}}},
                    {"mark": {"type": "line", "color": "#ff0000", "strokeWidth": 2.3, "clip": true},
                     "encoding": {"y": {"field": "m", "type": "quantitative", "axis": {"values": [-1, 0, 1, 2], "labelExpr": "datum.value + ''", "title": null}}}},
                    {"data": {"values": [{}]}, "mark": {"type": "rule", "color": "black", "strokeWidth": 1}, "encoding": {"x": {"datum": 0}}}
                  ]
                }
              ]
            }
          ]
        },
        {
          "bounds": "flush",
          "spacing": 67,
          "hconcat": [
            {"width": 1, "height": 1, "data": {"values": []}, "mark": "point"},
            {
              "bounds": "flush",
              "spacing": 79,
              "hconcat": [
                {
                  "width": 194, "height": 235,
                  "title": {"text": "C", "anchor": "start", "frame": "group", "dx": -58, "offset": 38.3, "baseline": "alphabetic", "font": "Lato", "fontSize": 28, "fontWeight": "normal", "color": "black"},
                  "data": {"name": "blink"},
                  "transform": [{"filter": "datum.p == 'C1'"}],
                  "encoding": {"x": {"field": "t", "type": "quantitative", "scale": {"domain": [-2000, 2000], "nice": false}, "axis": {"values": [-2000, 0, 2000], "labelExpr": "datum.value + ''", "title": null}}},
                  "layer": [
                    {"mark": {"type": "area", "color": "#ffccff", "opacity": 1, "clip": true},
                     "encoding": {"y": {"field": "lo", "type": "quantitative", "scale": {"domain": [-1, 2], "nice": false}, "axis": {"values": [-1, 0, 1, 2], "labelExpr": "datum.value + ''", "title": "normalized blink rate [z-score]"}}, "y2": {"field": "hi"}}},
                    {"mark": {"type": "line", "color": "#ff00ff", "strokeWidth": 2.3, "clip": true},
                     "encoding": {"y": {"field": "m", "type": "quantitative", "axis": {"values": [-1, 0, 1, 2], "labelExpr": "datum.value + ''", "title": "normalized blink rate [z-score]"}}}},
                    {"data": {"values": [{}]}, "mark": {"type": "rule", "color": "black", "strokeWidth": 1}, "encoding": {"x": {"datum": 0}}}
                  ]
                },
                {
                  "width": 193, "height": 235,
                  "title": {"text": "switch to component motion, experiment 1", "anchor": "middle", "frame": "group", "offset": -17.5, "baseline": "alphabetic", "font": "Liberation Sans", "fontSize": 23.1, "fontWeight": "bold", "color": "black"},
                  "data": {"name": "blink"},
                  "transform": [{"filter": "datum.p == 'C2'"}],
                  "encoding": {"x": {"field": "t", "type": "quantitative", "scale": {"domain": [-2000, 2000], "nice": false}, "axis": {"values": [-2000, 0, 2000], "labelExpr": "datum.value + ''", "title": "time around response [ms]"}}},
                  "layer": [
                    {"mark": {"type": "area", "color": "#ffccff", "opacity": 1, "clip": true},
                     "encoding": {"y": {"field": "lo", "type": "quantitative", "scale": {"domain": [-1, 2], "nice": false}, "axis": {"values": [-1, 0, 1, 2], "labelExpr": "datum.value + ''", "title": null}}, "y2": {"field": "hi"}}},
                    {"mark": {"type": "line", "color": "#ff00ff", "strokeWidth": 2.3, "clip": true},
                     "encoding": {"y": {"field": "m", "type": "quantitative", "axis": {"values": [-1, 0, 1, 2], "labelExpr": "datum.value + ''", "title": null}}}},
                    {"data": {"values": [{}]}, "mark": {"type": "rule", "color": "black", "strokeWidth": 1}, "encoding": {"x": {"datum": 0}}}
                  ]
                },
                {
                  "width": 193, "height": 235,
                  "data": {"name": "blink"},
                  "transform": [{"filter": "datum.p == 'C3'"}],
                  "encoding": {"x": {"field": "t", "type": "quantitative", "scale": {"domain": [-2000, 2000], "nice": false}, "axis": {"values": [-2000, 0, 2000], "labelExpr": "datum.value + ''", "title": null}}},
                  "layer": [
                    {"mark": {"type": "area", "color": "#ffccff", "opacity": 1, "clip": true},
                     "encoding": {"y": {"field": "lo", "type": "quantitative", "scale": {"domain": [-1, 2], "nice": false}, "axis": {"values": [-1, 0, 1, 2], "labelExpr": "datum.value + ''", "title": null}}, "y2": {"field": "hi"}}},
                    {"mark": {"type": "line", "color": "#ff00ff", "strokeWidth": 2.3, "clip": true},
                     "encoding": {"y": {"field": "m", "type": "quantitative", "axis": {"values": [-1, 0, 1, 2], "labelExpr": "datum.value + ''", "title": null}}}},
                    {"data": {"values": [{}]}, "mark": {"type": "rule", "color": "black", "strokeWidth": 1}, "encoding": {"x": {"datum": 0}}}
                  ]
                },
                {
                  "width": 193, "height": 235,
                  "data": {"name": "blink"},
                  "transform": [{"filter": "datum.p == 'C4'"}],
                  "encoding": {"x": {"field": "t", "type": "quantitative", "scale": {"domain": [-2000, 2000], "nice": false}, "axis": {"values": [-2000, 0, 2000], "labelExpr": "datum.value + ''", "title": null}}},
                  "layer": [
                    {"mark": {"type": "area", "color": "#ffccff", "opacity": 1, "clip": true},
                     "encoding": {"y": {"field": "lo", "type": "quantitative", "scale": {"domain": [-1, 2], "nice": false}, "axis": {"values": [-1, 0, 1, 2], "labelExpr": "datum.value + ''", "title": null}}, "y2": {"field": "hi"}}},
                    {"mark": {"type": "line", "color": "#ff00ff", "strokeWidth": 2.3, "clip": true},
                     "encoding": {"y": {"field": "m", "type": "quantitative", "axis": {"values": [-1, 0, 1, 2], "labelExpr": "datum.value + ''", "title": null}}}},
                    {"data": {"values": [{}]}, "mark": {"type": "rule", "color": "black", "strokeWidth": 1}, "encoding": {"x": {"datum": 0}}}
                  ]
                }
              ]
            }
          ]
        }
      ]
    }
  ]
}
